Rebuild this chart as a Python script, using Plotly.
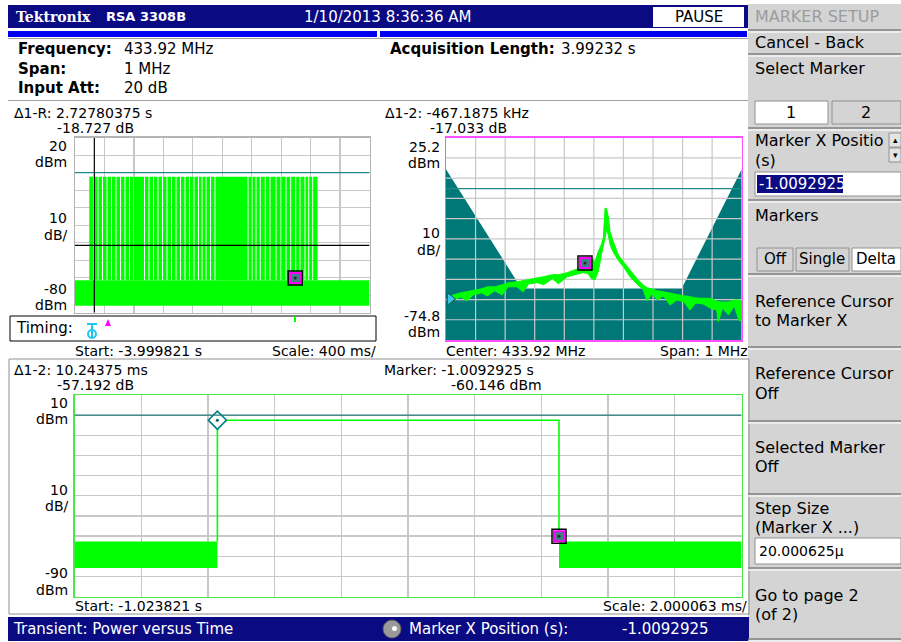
import plotly.graph_objects as go

OFF = 0
W, H = 901, 642
FONT = "DejaVu Sans"
NAVY = "#0a0a82"
LIME = "#00ff00"
TEAL = "#007878"
GRID = "#c8c8c8"

# ---------------- data ----------------
# Panel 1: long acquisition, power vs time
pvt1_start = -3.999821          # s
pvt1_scale = 0.4                # s/div
pvt1_top, pvt1_bottom = 20, -80
burst_start = [-3.8056, -3.7417, -3.6806, -3.6195, -3.5584, -3.4973, -3.4361, -3.3750, -3.3139,
               -3.2528, -3.1985, -3.0491, -2.9879, -2.9268, -2.8657, -2.8046, -2.7435, -2.6823,
               -2.6212, -2.5601, -2.4990, -2.4379, -2.3768, -2.3156, -2.2681, -2.2138, -2.1526,
               -2.0915, -1.6433, -1.5890, -1.5347, -1.4763, -1.4084, -1.3445, -1.2630, -1.1951,
               -1.1272, -1.0634, -0.9955, -0.9371, -0.8692, -0.8189, -0.7646]
burst_end = [-3.7553, -3.6942, -3.6331, -3.5720, -3.5108, -3.4497, -3.3886, -3.3275, -3.2664,
             -3.2120, -3.0626, -3.0015, -2.9404, -2.8793, -2.8182, -2.7570, -2.6959, -2.6348,
             -2.5737, -2.5126, -2.4515, -2.3903, -2.3292, -2.2817, -2.2273, -2.1662, -2.1051,
             -1.6569, -1.6026, -1.5482, -1.4898, -1.4219, -1.3581, -1.2766, -1.2087, -1.1408,
             -1.0769, -1.0090, -0.9506, -0.8827, -0.8325, -0.7781, -0.7062]
burst_top = -2.3                # dBm
noise1_low, noise1_high = -76.0, -61.5
ref_cursor_t = -3.7371
ref_cursor_level = -41.5
trigger_level = 0.0
marker1_t = -1.0092925
marker1_dbm = -60.146

# Panel 2: spectrum
spec_center, spec_span = 433.92, 1.0    # MHz
spec_top, spec_bottom = 25.2, -74.8
spec_freq = [433.428, 433.445, 433.470, 433.490, 433.512, 433.540, 433.560, 433.585, 433.610,
             433.630, 433.660, 433.681, 433.700, 433.730, 433.750, 433.780, 433.800, 433.830,
             433.860, 433.883, 433.900, 433.912, 433.924, 433.935, 433.945, 433.952, 433.958,
             433.963, 433.969, 433.975, 433.986, 434.003, 434.020, 434.042, 434.065, 434.087,
             434.100, 434.116, 434.135, 434.155, 434.178, 434.200, 434.225, 434.245, 434.265,
             434.290, 434.313, 434.335, 434.341, 434.355, 434.375, 434.395, 434.410, 434.420]
spec_upper = [-53.5, -52.5, -51.5, -51.0, -50.1, -49.5, -48.5, -48.5, -47.5,
              -46.5, -46.0, -45.5, -45.0, -44.0, -43.5, -42.5, -42.5, -41.5,
              -40.0, -38.6, -36.0, -34.3, -36.0, -31.0, -27.8, -24.4, -9.7,
              -9.7, -14.0, -21.3, -26.2, -32.8, -36.1, -40.2, -44.3, -47.6,
              -49.0, -49.5, -50.5, -51.0, -51.7, -52.5, -53.0, -53.4, -54.0,
              -54.2, -54.2, -55.5, -55.9, -56.0, -56.0, -55.0, -55.0, -55.9]
spec_lower = [-57.5, -55.0, -53.5, -55.5, -52.5, -51.5, -53.0, -50.5, -52.5,
              -48.5, -48.5, -51.0, -47.0, -46.5, -47.5, -44.5, -47.0, -43.5,
              -42.5, -41.5, -42.0, -44.5, -45.1, -41.0, -33.0, -29.3, -24.4,
              -20.0, -23.0, -27.8, -31.5, -35.5, -38.6, -43.5, -47.0, -50.0,
              -55.5, -52.0, -55.0, -53.0, -57.5, -55.0, -56.0, -60.0, -56.5,
              -57.0, -59.0, -60.0, -65.8, -59.0, -62.4, -58.0, -64.9, -65.8]
mask_freq = [433.42, 433.675, 434.217, 434.42]
mask_level = [9.6, -49.3, -49.3, 9.6]
spec_marker_f, spec_marker_dbm = 433.890, -36.7
spec_ref_f, spec_ref_dbm = 433.4335, -54.5

# Panel 3: zoomed power vs time
pvt3_start = -1.023821
pvt3_scale = 0.002000063
pvt3_top, pvt3_bottom = 10, -90
pulse_on = -1.01953675
pulse_off = -1.0092925
pulse_level = -2.5
noise3_low, noise3_high = -75.9, -62.7

# ---------------- helpers (screen pixel -> paper) ----------------
def px(x):
    return (x - OFF) / W

def py(y):
    return 1 - (y - OFF) / H

annotations = []
shapes = []

def txt(x, y, s, size=15, color="black", anchor="left", bold=False, family=FONT):
    annotations.append(dict(
        x=px(x), y=py(y), xref="paper", yref="paper",
        text=f"<b>{s}</b>" if bold else s, showarrow=False,
        xanchor=anchor, yanchor="middle", borderpad=0,
        font=dict(size=size, color=color, family=family)))

def rect(x0, y0, x1, y1, fill=None, line=None, lw=1):
    shapes.append(dict(type="rect", xref="paper", yref="paper",
                       x0=px(x0), x1=px(x1), y0=py(y1), y1=py(y0),
                       fillcolor=fill or "rgba(0,0,0,0)",
                       line=dict(color=line or "rgba(0,0,0,0)", width=lw if line else 0),
                       layer="above"))

def pline(x0, y0, x1, y1, color, lw=1):
    shapes.append(dict(type="line", xref="paper", yref="paper",
                       x0=px(x0), x1=px(x1), y0=py(y0), y1=py(y1),
                       line=dict(color=color, width=lw), layer="above"))

def marker_box(fig, x, y, xa, ya):
    for sym, size, col, lcol, lw in [("square-open", 14, "black", "black", 1.5),
                                     ("square", 10, "#3f8080", "#ff00ff", 2),
                                     ("circle", 3, "#1a3030", "#1a3030", 0)]:
        fig.add_trace(go.Scatter(x=[x], y=[y], mode="markers",
                                 marker=dict(symbol=sym, size=size, color=col,
                                             line=dict(color=lcol, width=lw)),
                                 xaxis=xa, yaxis=ya, cliponaxis=False, hoverinfo="skip"))

fig = go.Figure()

# ---------------- panel 1 ----------------
pvt1_end = pvt1_start + 10 * pvt1_scale
fig.add_trace(go.Scatter(
    x=[pvt1_start, pvt1_end, pvt1_end, pvt1_start],
    y=[noise1_low, noise1_low, noise1_high, noise1_high],
    fill="toself", fillcolor=LIME, line=dict(width=0), mode="lines",
    xaxis="x", yaxis="y", hoverinfo="skip"))
fig.add_trace(go.Bar(
    x=[(s + e) / 2 for s, e in zip(burst_start, burst_end)],
    width=[e - s for s, e in zip(burst_start, burst_end)],
    base=[noise1_high] * len(burst_start),
    y=[burst_top - noise1_high] * len(burst_start),
    marker=dict(color=LIME, line=dict(width=0)),
    xaxis="x", yaxis="y", hoverinfo="skip"))
marker_box(fig, marker1_t, marker1_dbm, "x", "y")

# ---------------- panel 2 ----------------
f0 = spec_center - spec_span / 2
f1 = spec_center + spec_span / 2
fig.add_trace(go.Scatter(
    x=[f0] + mask_freq + [f1],
    y=[spec_bottom] + mask_level + [spec_bottom],
    fill="toself", fillcolor=TEAL, line=dict(width=0), mode="lines",
    xaxis="x2", yaxis="y2", hoverinfo="skip"))
# graticule drawn above the mask, below the trace
gx, gy = [], []
for i in range(1, 10):
    f = f0 + i * spec_span / 10
    gx += [f, f, None]
    gy += [spec_bottom, spec_top, None]
for i in range(1, 10):
    v = spec_bottom + i * 10
    gx += [f0, f1, None]
    gy += [v, v, None]
fig.add_trace(go.Scatter(x=gx, y=gy, mode="lines", line=dict(color=GRID, width=1.2),
                         xaxis="x2", yaxis="y2", hoverinfo="skip"))
fig.add_trace(go.Scatter(
    x=[f0, f1], y=[trigger_level, trigger_level], mode="lines",
    line=dict(color="#1f8a8a", width=1.2), xaxis="x2", yaxis="y2", hoverinfo="skip"))
fig.add_trace(go.Scatter(
    x=spec_freq + spec_freq[::-1], y=spec_upper + spec_lower[::-1],
    fill="toself", fillcolor=LIME, mode="lines", line=dict(color=LIME, width=1),
    xaxis="x2", yaxis="y2", hoverinfo="skip"))
marker_box(fig, spec_marker_f, spec_marker_dbm, "x2", "y2")
fig.add_trace(go.Scatter(x=[spec_ref_f], y=[spec_ref_dbm], mode="markers",
                         marker=dict(symbol="triangle-right", size=11, color="#38c8e8",
                                     line=dict(color="#1a4a60", width=1)),
                         xaxis="x2", yaxis="y2", cliponaxis=False, hoverinfo="skip"))

# ---------------- panel 3 ----------------
pvt3_end = pvt3_start + 10 * pvt3_scale
for a, b in [(pvt3_start, pulse_on), (pulse_off, pvt3_end)]:
    fig.add_trace(go.Scatter(
        x=[a, b, b, a], y=[noise3_low, noise3_low, noise3_high, noise3_high],
        fill="toself", fillcolor=LIME, line=dict(width=0), mode="lines",
        xaxis="x3", yaxis="y3", hoverinfo="skip"))
fig.add_trace(go.Scatter(
    x=[pulse_on, pulse_on, pulse_off, pulse_off],
    y=[noise3_high, pulse_level, pulse_level, noise3_high],
    mode="lines", line=dict(color=LIME, width=1.6), xaxis="x3", yaxis="y3", hoverinfo="skip"))
marker_box(fig, pulse_off, marker1_dbm, "x3", "y3")
for sym, size, col, lcol, lw in [("diamond", 14, "white", "#008080", 1.6),
                                 ("circle", 3, "#006060", "#006060", 0)]:
    fig.add_trace(go.Scatter(x=[pulse_on], y=[pulse_level], mode="markers",
                             marker=dict(symbol=sym, size=size, color=col,
                                         line=dict(color=lcol, width=lw)),
                             xaxis="x3", yaxis="y3", cliponaxis=False, hoverinfo="skip"))

# data-referenced lines
shapes.append(dict(type="line", xref="x", yref="y", x0=pvt1_start, x1=pvt1_end,
                   y0=trigger_level, y1=trigger_level, line=dict(color="#1f8a8a", width=1.2)))
shapes.append(dict(type="line", xref="x", yref="y", x0=pvt1_start, x1=pvt1_end,
                   y0=ref_cursor_level, y1=ref_cursor_level, line=dict(color="black", width=1.2)))
shapes.append(dict(type="line", xref="x", yref="y", x0=ref_cursor_t, x1=ref_cursor_t,
                   y0=pvt1_bottom, y1=pvt1_top, line=dict(color="black", width=1.2)))
shapes.append(dict(type="line", xref="x3", yref="y3", x0=pvt3_start, x1=pvt3_end,
                   y0=trigger_level, y1=trigger_level, line=dict(color="#1f7a7a", width=1.2)))

# ---------------- screen chrome ----------------
rect(748, 4, 901, 642, fill="#d4d4d4")
rect(8, 5, 748, 28, fill=NAVY)
rect(653, 7, 744, 27, fill="white")
rect(8, 31, 377, 37, fill="#0000ee")
rect(380, 31, 747, 37, fill="#0000ee")
pline(8, 38.5, 748, 38.5, "#a0a0a0", 1)
pline(8, 100.5, 748, 100.5, "#a0a0a0", 1)
rect(9, 359, 749, 614, line="#909090", lw=1)
rect(8, 617, 749, 641, fill=NAVY)
shapes.append(dict(type="circle", xref="paper", yref="paper",
                   x0=px(383), x1=px(401), y0=py(638), y1=py(620),
                   fillcolor="#9a9a9a", line=dict(color="#606060", width=1), layer="above"))
shapes.append(dict(type="circle", xref="paper", yref="paper",
                   x0=px(392), x1=px(397), y0=py(631), y1=py(626),
                   fillcolor="white", line=dict(width=0), layer="above"))
# timing box
rect(10, 316, 376, 341, fill="white", line="black", lw=1)
pline(87, 324, 97, 324, "#20c8f0", 2)
pline(92, 324, 92, 338, "#20c8f0", 2)
shapes.append(dict(type="circle", xref="paper", yref="paper",
                   x0=px(88), x1=px(96), y0=py(338), y1=py(330),
                   fillcolor="rgba(0,0,0,0)", line=dict(color="#20c8f0", width=2), layer="above"))
shapes.append(dict(type="path", xref="paper", yref="paper",
                   path=f"M {px(105)} {py(326)} L {px(111)} {py(326)} L {px(108)} {py(319)} Z",
                   fillcolor="#ff00ff", line=dict(width=0), layer="above"))
pline(295, 316, 295, 322, LIME, 2)

# right panel separators and controls
for ys in [30, 54, 128, 200, 274, 347, 421, 494, 568, 639]:
    pline(748, ys, 901, ys, "#808080", 1.5)
    pline(748, ys + 2, 901, ys + 2, "#f4f4f4", 1.5)
rect(755, 101, 828, 124, fill="white", line="#909090")
rect(832, 101, 901, 124, fill="#d4d4d4", line="#909090")
rect(889, 133, 901, 147, fill="#e4e4e4", line="#909090")
rect(889, 148, 901, 162, fill="#e4e4e4", line="#909090")
rect(755, 172, 901, 196, fill="white", line="#909090")
rect(757, 175, 843, 193, fill=NAVY)
rect(757, 248, 793, 271, fill="#d4d4d4", line="#909090")
rect(796, 248, 849, 271, fill="#d4d4d4", line="#909090")
rect(852, 248, 901, 271, fill="white", line="#909090")
rect(755, 538, 901, 564, fill="white", line="#909090")

# ---------------- text ----------------
txt(15, 17, "Tektronix", size=14, color="white", bold=True, family="DejaVu Serif")
txt(105, 17, "RSA 3308B", size=13, color="white", bold=True)
txt(303, 17, "1/10/2013 8:36:36 AM", size=15, color="white")
txt(699, 17, "PAUSE", size=15, anchor="center")

txt(17, 49, "Frequency:", bold=True)
txt(123, 49, "433.92 MHz")
txt(17, 69, "Span:", bold=True)
txt(123, 69, "1 MHz")
txt(17, 88, "Input Att:", bold=True)
txt(123, 88, "20 dB")
txt(389, 49, "Acquisition Length:", bold=True)
txt(560, 49, "3.99232 s")

# panel 1 labels
txt(13, 113, "Δ1-R: 2.72780375 s", size=14)
txt(56, 128, "-18.727 dB", size=14)
txt(68, 146, "20", anchor="right", size=14)
txt(68, 162, "dBm", anchor="right", size=14)
txt(68, 218, "10", anchor="right", size=14)
txt(68, 235, "dB/", anchor="right", size=14)
txt(68, 289, "-80", anchor="right", size=14)
txt(68, 305, "dBm", anchor="right", size=14)
txt(15, 328, "Timing:")
txt(74, 351, "Start: -3.999821 s", size=14)
txt(377, 351, "Scale: 400 ms/", anchor="right", size=14)

# panel 2 labels
txt(384, 113, "Δ1-2: -467.1875 kHz", size=14)
txt(429, 128, "-17.033 dB", size=14)
txt(441, 147, "25.2", anchor="right", size=14)
txt(441, 163, "dBm", anchor="right", size=14)
txt(441, 233, "10", anchor="right", size=14)
txt(441, 250, "dB/", anchor="right", size=14)
txt(441, 316, "-74.8", anchor="right", size=14)
txt(441, 332, "dBm", anchor="right", size=14)
txt(445, 351, "Center: 433.92 MHz", size=14)
txt(749, 351, "Span: 1 MHz", anchor="right", size=14)

# panel 3 labels
txt(13, 370, "Δ1-2: 10.24375 ms", size=14)
txt(56, 385, "-57.192 dB", size=14)
txt(383, 370, "Marker: -1.0092925 s", size=14)
txt(450, 385, "-60.146 dBm", size=14)
txt(69, 403, "10", anchor="right", size=14)
txt(69, 419, "dBm", anchor="right", size=14)
txt(69, 490, "10", anchor="right", size=14)
txt(69, 506, "dB/", anchor="right", size=14)
txt(69, 573, "-90", anchor="right", size=14)
txt(69, 590, "dBm", anchor="right", size=14)
txt(74, 606, "Start: -1.023821 s", size=14)
txt(748, 606, "Scale: 2.000063 ms/", anchor="right", size=14)

# status bar text
txt(12, 629, "Transient: Power versus Time", color="white")
txt(408, 629, "Marker X Position (s):", color="white")
txt(621, 629, "-1.0092925", color="white")

# right panel text
RP = 16
txt(754, 17, "MARKER SETUP", size=RP, color="#9c9c9c")
txt(754, 43, "Cancel - Back", size=RP)
txt(754, 68, "Select Marker", size=RP)
txt(791, 112, "1", size=RP, anchor="center")
txt(866, 112, "2", size=RP, anchor="center")
txt(754, 141, "Marker X Positio", size=RP)
txt(895, 140, "▴", size=9, anchor="center")
txt(895, 155, "▾", size=9, anchor="center")
txt(754, 160, "(s)", size=RP)
txt(758, 184, "-1.0092925", size=15, color="white")
txt(754, 215, "Markers", size=RP)
txt(775, 259, "Off", size=15, anchor="center")
txt(822, 259, "Single", size=15, anchor="center")
txt(855, 259, "Delta", size=15)
txt(754, 301, "Reference Cursor", size=RP)
txt(754, 320, "to Marker X", size=RP)
txt(754, 374, "Reference Cursor", size=RP)
txt(754, 393, "Off", size=RP)
txt(754, 447, "Selected Marker", size=RP)
txt(754, 466, "Off", size=RP)
txt(754, 508, "Step Size", size=RP)
txt(754, 527, "(Marker X ...)", size=RP)
txt(758, 551, "20.000625µ", size=14)
txt(754, 595, "Go to page 2", size=RP)
txt(754, 614, "(of 2)", size=RP)

# ---------------- axes ----------------
def xax(dom, rng, dtick, anchor, color, grid=True):
    return dict(domain=[px(dom[0]), px(dom[1])], range=rng, tick0=rng[0], dtick=dtick,
                showticklabels=False, ticks="", showgrid=grid, gridcolor=GRID, gridwidth=1.2,
                zeroline=False, showline=True, mirror=True, linecolor=color, linewidth=1.5,
                anchor=anchor, fixedrange=True)

def yax(dom, rng, anchor, color, grid=True):
    return dict(domain=[py(dom[1]), py(dom[0])], range=rng, tick0=rng[0], dtick=10,
                showticklabels=False, ticks="", showgrid=grid, gridcolor=GRID, gridwidth=1.2,
                zeroline=False, showline=True, mirror=True, linecolor=color, linewidth=1.5,
                anchor=anchor, fixedrange=True)

fig.update_layout(
    width=W, height=H, margin=dict(l=0, r=0, t=0, b=0),
    paper_bgcolor="white", plot_bgcolor="white", showlegend=False,
    barmode="overlay",
    xaxis=xax((75, 369.5), [pvt1_start, pvt1_end], pvt1_scale, "y", "#b4b4b4"),
    yaxis=yax((137.7, 312.7), [pvt1_bottom, pvt1_top], "x", "#b4b4b4"),
    xaxis2=xax((446, 741.7), [f0, f1], spec_span / 10, "y2", "#ff50ff", grid=False),
    yaxis2=yax((137.7, 340), [spec_bottom, spec_top], "x2", "#ff50ff", grid=False),
    xaxis3=xax((74.5, 741.5), [pvt3_start, pvt3_end], pvt3_scale, "y3", "#48e848"),
    yaxis3=yax((395, 596.5), [pvt3_bottom, pvt3_top], "x3", "#48e848"),
    annotations=annotations, shapes=shapes,
)

fig.write_html("out.html",
               config={"displayModeBar": False, "staticPlot": True},
               post_script="document.body.style.margin='0';document.body.style.overflow='hidden';")
